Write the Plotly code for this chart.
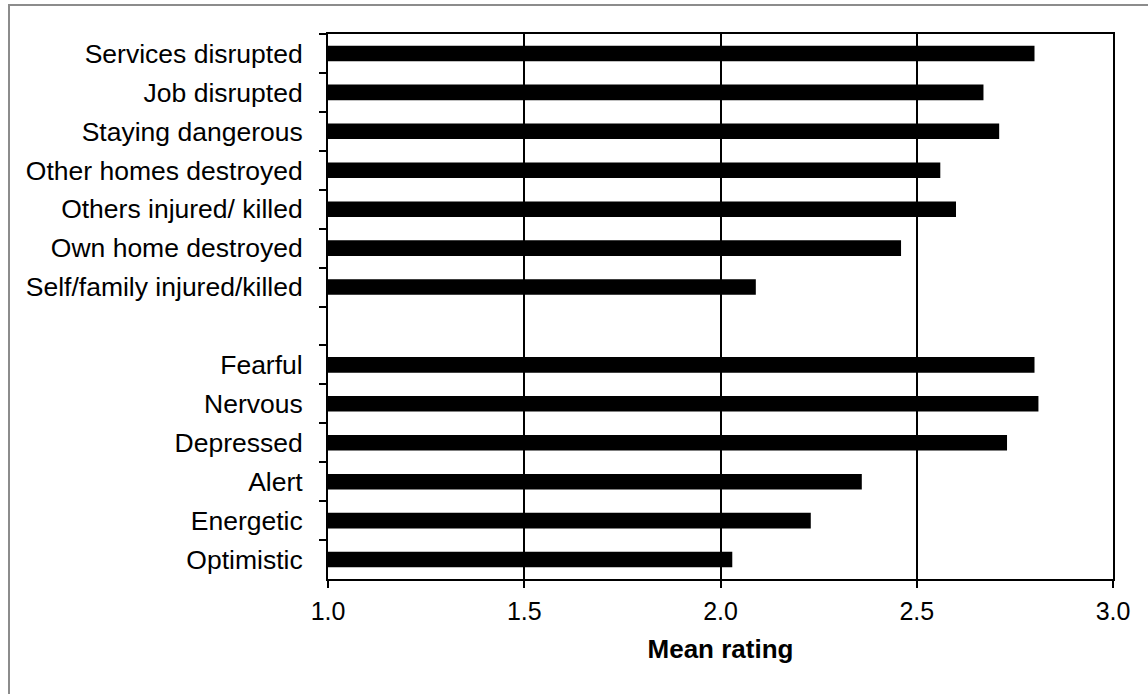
import plotly.graph_objects as go

categories = [
    "Services disrupted", "Job disrupted", "Staying dangerous",
    "Other homes destroyed", "Others injured/ killed", "Own home destroyed",
    "Self/family injured/killed", " ",
    "Fearful", "Nervous", "Depressed", "Alert", "Energetic", "Optimistic",
]
mean_rating = [2.80, 2.67, 2.71, 2.56, 2.60, 2.46, 2.09, None,
               2.80, 2.81, 2.73, 2.36, 2.23, 2.03]
x_ticks = [1.0, 1.5, 2.0, 2.5, 3.0]
x_tick_labels = ["1.0", "1.5", "2.0", "2.5", "3.0"]

FONT = "Liberation Sans, Arial, Helvetica, sans-serif"

W, H = 1148, 694
L, R, T, B = 328, 35, 34, 115
PW, PH = W - L - R, H - T - B

fig = go.Figure()
fig.add_trace(go.Bar(
    y=categories, x=mean_rating, orientation="h",
    marker=dict(color="black", line=dict(width=0)),
    width=0.4, showlegend=False, hoverinfo="x+y",
))

fig.update_layout(
    width=W, height=H,
    margin=dict(l=L, r=R, t=T, b=B),
    paper_bgcolor="white", plot_bgcolor="white",
    font=dict(family=FONT, size=25, color="black"),
    shapes=[dict(type="rect", xref="paper", yref="paper",
                 x0=(9 - L) / PW, x1=(W + 20 - L) / PW,
                 y0=-(B + 20) / PH, y1=(H - B - 5) / PH,
                 line=dict(color="#8c8c8c", width=2), layer="below")],
)

fig.update_xaxes(
    range=[1.0, 3.0], tickvals=x_ticks, ticktext=x_tick_labels,
    showgrid=True, gridcolor="black", gridwidth=1.8,
    showline=True, linecolor="black", linewidth=2, mirror=True,
    ticks="outside", ticklen=7, tickwidth=1.5, tickcolor="black",
    zeroline=False, ticklabelstandoff=2,
    title=dict(text="<b>Mean rating</b>", font=dict(size=26), standoff=16),
)
fig.update_yaxes(
    type="category", categoryorder="array", categoryarray=categories,
    autorange="reversed",
    showgrid=False, tickfont=dict(size=26.5),
    showline=True, linecolor="black", linewidth=2, mirror=True,
    ticks="outside", ticklen=7, tickwidth=1.5, tickcolor="black",
    tickson="boundaries", ticklabelstandoff=18,
)

fig.write_html("out.html", config={"displayModeBar": False},
               post_script="document.body.style.margin='0';")
